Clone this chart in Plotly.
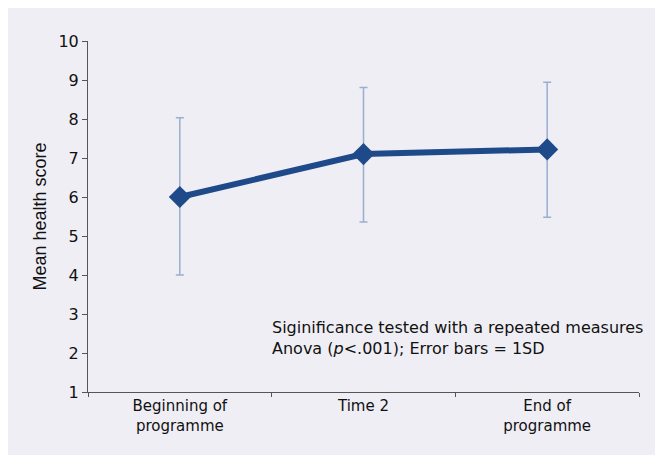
import plotly.graph_objects as go

# data
stages = ["Beginning of<br>programme", "Time 2", "End of<br>programme"]
mean_score = [6.0, 7.1, 7.22]
sd_plus = [2.03, 1.71, 1.72]
sd_minus = [2.0, 1.74, 1.74]
y_ticks = [1, 2, 3, 4, 5, 6, 7, 8, 9, 10]

note = "Siginificance tested with a repeated measures<br>Anova (<i>p</i>&lt;.001); Error bars = 1SD"

panel_bg = "#EFEEF4"
text_font = "DejaVu Sans"

fig = go.Figure()

fig.add_trace(
    go.Scatter(
        x=stages,
        y=mean_score,
        mode="lines+markers",
        line={"color": "#1F4A8A", "width": 6},
        marker={"symbol": "diamond", "size": 17, "color": "#1F4A8A"},
        error_y={
            "type": "data",
            "symmetric": False,
            "array": sd_plus,
            "arrayminus": sd_minus,
            "color": "#9AAED0",
            "thickness": 1.5,
            "width": 4,
        },
        showlegend=False,
    )
)

fig.add_annotation(
    text=note,
    xref="paper",
    yref="paper",
    x=0.33,
    y=0.155,
    xanchor="left",
    yanchor="middle",
    align="left",
    showarrow=False,
    font={"family": text_font, "size": 16, "color": "#111"},
)

fig.update_layout(
    width=655,
    height=447,
    margin={"l": 80, "r": 24, "t": 33, "b": 63},
    paper_bgcolor=panel_bg,
    plot_bgcolor=panel_bg,
    font={"family": text_font, "size": 15, "color": "#111"},
)

fig.update_xaxes(
    type="category",
    range=[-0.5, 2.5],
    tickson="boundaries",
    ticks="outside",
    ticklen=4,
    tickcolor="#555",
    showline=True,
    linecolor="#555",
    linewidth=1,
    showgrid=False,
    zeroline=False,
    tickfont={"size": 15},
)

fig.update_yaxes(
    range=[1, 10],
    tickvals=y_ticks,
    ticks="outside",
    ticklen=5,
    tickcolor="#555",
    showline=True,
    linecolor="#555",
    linewidth=1,
    showgrid=False,
    zeroline=False,
    tickfont={"size": 16},
    title={
        "text": "Mean health score",
        "font": {"family": "Liberation Sans", "size": 18, "color": "#111"},
        "standoff": 7,
    },
)

fig.write_html("out.html")
